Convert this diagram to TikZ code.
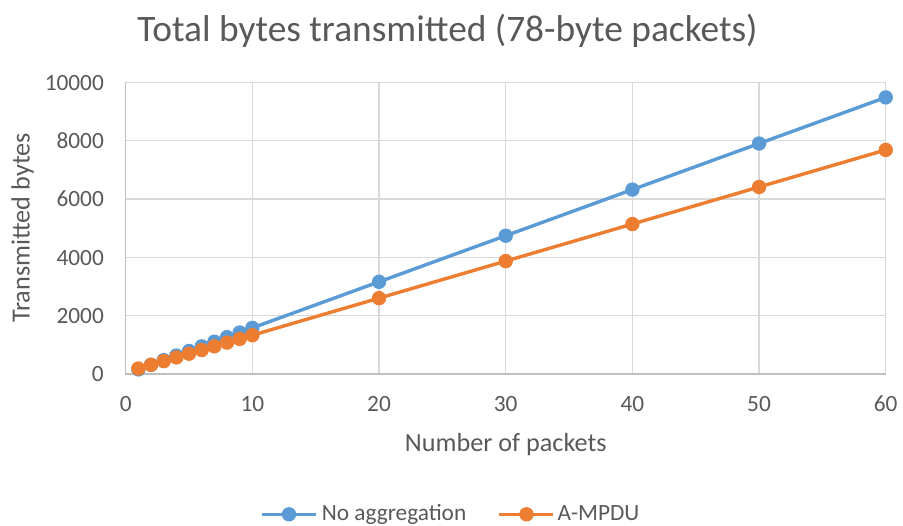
\documentclass[tikz,border=0pt]{standalone}
\usepackage{fontspec}
\setmainfont{Carlito}
\definecolor{txt}{HTML}{595959}
\definecolor{gridc}{HTML}{D9D9D9}
\definecolor{axisc}{HTML}{BFBFBF}
\definecolor{blueS}{HTML}{5B9BD5}
\definecolor{orangeS}{HTML}{ED7D31}
\tikzset{
  gridline/.style={draw=gridc, line width=1.3pt},
  axisline/.style={draw=axisc, line width=1.3pt},
  ticklabel/.style={text=txt, font=\fontsize{23.3}{26}\selectfont, inner sep=0pt},
  axistitle/.style={text=txt, font=\fontsize{26.2}{29}\selectfont, inner sep=0pt},
  charttitle/.style={text=txt, font=\fontsize{37.4}{41}\selectfont, inner sep=0pt},
  series/.style={line width=3.4pt, line join=round, line cap=round},
}
% data -> pixel coordinates
\newcommand{\mapx}[1]{(125.7+12.667*(#1))}
\newcommand{\mapy}[1]{(374-0.02917*(#1))}
\newcommand{\datapt}[2]{({\mapx{#1}},{\mapy{#2}})}
\begin{document}
\begin{tikzpicture}[x=1pt, y=-1pt]
\useasboundingbox (0,0) rectangle (903,526);

% grid
\foreach \v in {2000,4000,6000,8000,10000}
  \draw[gridline] (125.7,{\mapy{\v}}) -- (885.7,{\mapy{\v}});
\foreach \n in {10,20,...,60}
  \draw[gridline] ({\mapx{\n}},82.3) -- ({\mapx{\n}},374);
% axes
\draw[axisline] (125.7,82.3) -- (125.7,374) -- (885.7,374);

% tick labels
\foreach \v in {0,2000,4000,6000,8000,10000}
  \node[ticklabel, anchor=base east] (yl\v) at (104,{\mapy{\v}+8}) {\v};
\foreach \n in {0,10,...,60}
  \node[ticklabel, anchor=base] (xl\n) at ({\mapx{\n}},412) {\n};

% titles
\node[charttitle, anchor=base] (title) at (447.5,42) {Total bytes transmitted (78-byte packets)};
\node[axistitle, anchor=base] (xtitle) at (505.7,452) {Number of packets};
\node[axistitle, anchor=base, rotate=90] (ytitle) at (29.5,228) {Transmitted bytes};

% series: no aggregation
\draw[series, blueS] \datapt{1}{158} -- \datapt{2}{316} -- \datapt{3}{474} -- \datapt{4}{632}
  -- \datapt{5}{790} -- \datapt{6}{948} -- \datapt{7}{1106} -- \datapt{8}{1264}
  -- \datapt{9}{1422} -- \datapt{10}{1580} -- \datapt{20}{3160} -- \datapt{30}{4740}
  -- \datapt{40}{6320} -- \datapt{50}{7900} -- \datapt{60}{9480};
\foreach \n in {1,...,10,20,30,40,50,60}
  \fill[blueS] \datapt{\n}{158*\n} circle (7.2);

% series: A-MPDU
\draw[series, orangeS] \datapt{1}{187} -- \datapt{2}{314} -- \datapt{3}{441} -- \datapt{4}{568}
  -- \datapt{5}{695} -- \datapt{6}{822} -- \datapt{7}{949} -- \datapt{8}{1076}
  -- \datapt{9}{1203} -- \datapt{10}{1330} -- \datapt{20}{2600} -- \datapt{30}{3870}
  -- \datapt{40}{5140} -- \datapt{50}{6410} -- \datapt{60}{7680};
\foreach \n in {1,...,10,20,30,40,50,60}
  \fill[orangeS] \datapt{\n}{127*\n+60} circle (7.2);

% legend
\coordinate (la) at (262,514.3);
\coordinate (lb) at (316,514.3);
\draw[series, blueS, line cap=butt] (la) -- (lb);
\fill[blueS] (289,514.3) circle (7.2);
\node[ticklabel, anchor=base west] (leg1) at (321.7,520.5) {No aggregation};
\coordinate (lc) at (499,514.3);
\coordinate (ld) at (553,514.3);
\draw[series, orangeS, line cap=butt] (lc) -- (ld);
\fill[orangeS] (526.5,514.3) circle (7.2);
\node[ticklabel, anchor=base west] (leg2) at (557.5,520.5) {A-MPDU};
\end{tikzpicture}
\end{document}
